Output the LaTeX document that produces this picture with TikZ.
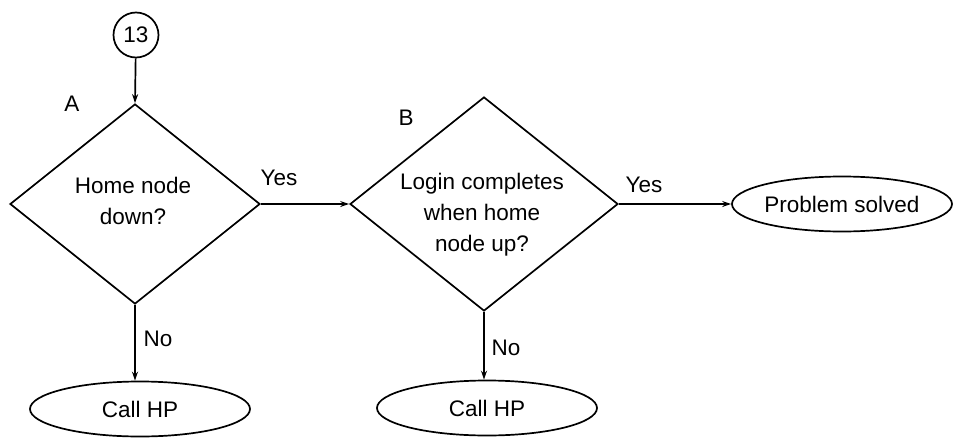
\documentclass[tikz,border=0pt]{standalone}
\usepackage{fontspec}
\setmainfont{Liberation Sans}
\usetikzlibrary{shapes.geometric,arrows.meta}
\begin{document}
\begin{tikzpicture}[x=1pt,y=-1pt,
  every node/.style={font=\fontsize{22.5}{31}\selectfont},
  flow/.style={line width=1.7pt,-{Stealth[length=9pt,width=6pt]}},
  decision/.style={draw,diamond,line width=1.7pt,inner sep=0pt},
  terminal/.style={draw,ellipse,line width=1.7pt,inner sep=0pt,
    minimum width=220pt,minimum height=55pt},
  connector/.style={draw,circle,line width=1.7pt,inner sep=0pt,minimum size=45pt},
  tag/.style={inner sep=1pt}]
  \useasboundingbox (0,0) rectangle (956,442);

  % off-page connector
  \node[connector] (C13) at (136,35) {13};

  % decision A
  \node[decision,minimum width=250pt,minimum height=200pt] (A) at (135,204) {};
  \node[align=center] (Atext) at (133,201) {Home node\\down?};
  \node[tag] (Alab) at (72,104) {A};

  % decision B
  \node[decision,minimum width=268pt,minimum height=214pt] (B) at (484,204) {};
  \node[align=center] (Btext) at (482,215) {Login completes\\when home\\node up?};
  \node[tag] (Blab) at (406,118) {B};

  % outcomes
  \node[terminal] (P) at (842,204) {Problem solved};
  \node[terminal] (H1) at (140,409) {Call HP};
  \node[terminal] (H2) at (487,408) {Call HP};

  % connectors
  \draw[flow] (C13) -- (A.north);
  \draw[flow] (A.east) -- (B.west);
  \draw[flow] (B.east) -- (P.west);
  \draw[flow] (A.south) -- (A.south |- H1.north);
  \draw[flow] (B.south) -- (B.south |- H2.north);

  % branch labels
  \node[tag] (yA) at (279,178) {Yes};
  \node[tag] (yB) at (644,185) {Yes};
  \node[tag] (nA) at (158,339) {No};
  \node[tag] (nB) at (506,348) {No};
\end{tikzpicture}
\end{document}
